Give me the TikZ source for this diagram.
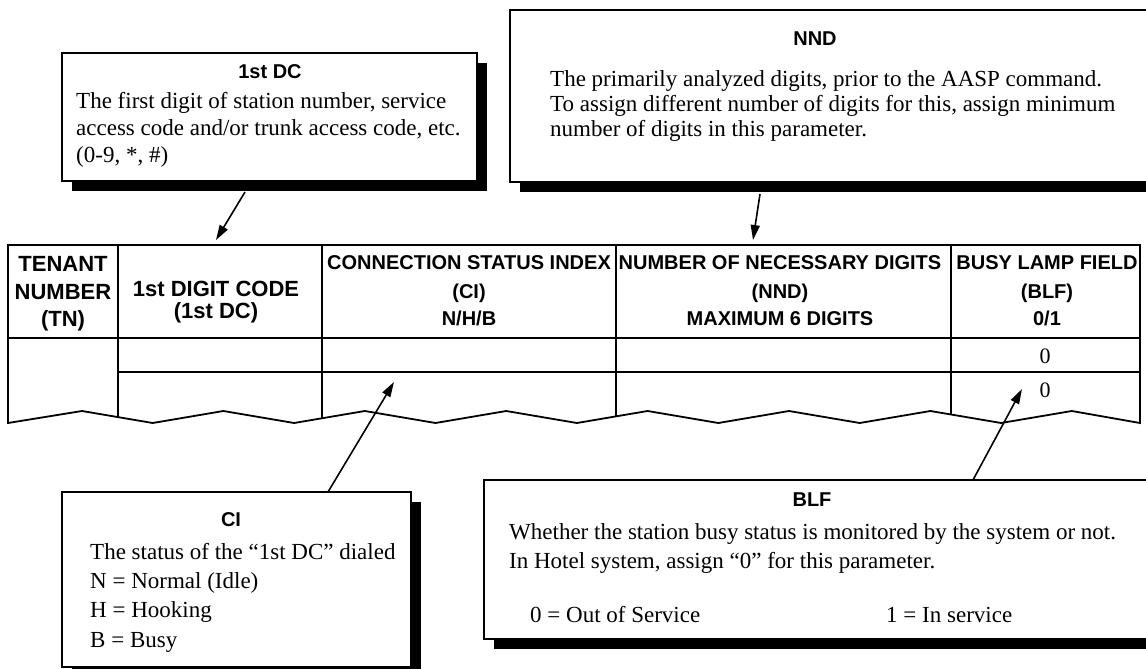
\documentclass[tikz,border=0pt]{standalone}
\usepackage{fontspec}
\setmainfont{Liberation Serif}
\setsansfont{Liberation Sans}
\usetikzlibrary{arrows.meta,shadows}
\tikzset{
  calloutbox/.style={draw, line width=1.8pt, fill=white, anchor=north west, inner sep=0pt, outer sep=0pt,
     drop shadow={shadow xshift=10pt, shadow yshift=-10pt, fill=black, opacity=1}},
  ttl/.style={font=\sffamily\bfseries\fontsize{20}{24}\selectfont, inner sep=0pt},
  bodyline/.style={font=\fontsize{23}{27}\selectfont, anchor=base west, inner sep=0pt},
  hdr/.style={font=\sffamily\bfseries\fontsize{20}{24}\selectfont, anchor=base, inner sep=0pt},
  hdrL/.style={font=\sffamily\bfseries\fontsize{22}{26}\selectfont, anchor=base, inner sep=0pt},
  cellnum/.style={font=\fontsize{22}{26}\selectfont, anchor=base, inner sep=0pt},
  pointer/.style={line width=1.6pt, -{Triangle[length=15pt,width=9pt]}},
  tableedge/.style={line width=1.8pt, line join=miter},
  cellrule/.style={line width=1.3pt},
  headrule/.style={line width=2.4pt},
}
\begin{document}
\begin{tikzpicture}[x=1pt,y=-1pt]
\useasboundingbox (0,0) rectangle (1146,669);
\clip (0,0) rectangle (1146,669);

% ---------- callout boxes ----------
\node[calloutbox, minimum width=415pt, minimum height=128pt] (dcbox) at (62,53) {};
\node[calloutbox, minimum width=660pt, minimum height=172pt] (nndbox) at (510,10) {};
\node[calloutbox, minimum width=349pt, minimum height=175pt] (cibox) at (62,492) {};
\node[calloutbox, minimum width=680pt, minimum height=159pt] (blfbox) at (484,480) {};

% 1st DC box text
\node[ttl] (dcT) at (270,72) {1st DC};
\node[bodyline] (dcL1) at (76,108) {The first digit of station number, service};
\node[bodyline] (dcL2) at (76,135) {access code and/or trunk access code, etc.};
\node[bodyline] (dcL3) at (76,162) {(0-9, *, \#)};

% NND box text
\node[ttl] (nndT) at (815,39) {NND};
\node[bodyline] (nndL1) at (550,86) {The primarily analyzed digits, prior to the AASP command.};
\node[bodyline] (nndL2) at (550,111) {To assign different number of digits for this, assign minimum};
\node[bodyline] (nndL3) at (550,136) {number of digits in this parameter.};

% CI box text
\node[ttl] (ciT) at (231,520) {CI};
\node[bodyline] (ciL1) at (90,559) {The status of the “1st DC” dialed};
\node[bodyline] (ciL2) at (90,588) {N = Normal (Idle)};
\node[bodyline] (ciL3) at (90,617) {H = Hooking};
\node[bodyline] (ciL4) at (90,647) {B = Busy};

% BLF box text
\node[ttl] (blfT) at (812,500) {BLF};
\node[bodyline] (blfL1) at (509,539) {Whether the station busy status is monitored by the system or not.};
\node[bodyline] (blfL2) at (509,568) {In Hotel system, assign “0” for this parameter.};
\node[bodyline] (blfL3) at (530,622) {0 = Out of Service};
\node[bodyline] (blfL4) at (886,622) {1 = In service};

% ---------- table ----------
\def\tablepath{(8,245) -- (1140,245) -- (1140,423) -- (1071.8,411) -- (1001.1,423) -- (930.4,411) -- (859.7,423) -- (789,411) -- (718.3,423) -- (647.6,411) -- (576.9,423) -- (506.2,411) -- (435.5,423) -- (364.8,411) -- (294.1,423) -- (223.4,411) -- (152.7,423) -- (82,411) -- (8,423) -- cycle}
\begin{scope}
  \clip \tablepath;
  \foreach \cx in {118,322,616,951} \draw[cellrule] (\cx,245) -- (\cx,430);
  \draw[headrule] (8,338) -- (1140,338);
  \draw[cellrule] (118,372) -- (1140,372);
\end{scope}
\draw[tableedge] \tablepath;

% header texts
\node[hdrL] (tn1) at (63,271) {TENANT};
\node[hdrL] (tn2) at (63,299) {NUMBER};
\node[hdrL] (tn3) at (63,326) {(TN)};
\node[hdrL] (dc1) at (216,296) {1st DIGIT CODE};
\node[hdrL] (dc2) at (216,318) {(1st DC)};
\node[hdr] (ci1) at (469,269) {CONNECTION STATUS INDEX};
\node[hdr] (ci2) at (469,298) {(CI)};
\node[hdr] (ci3) at (469,325) {N/H/B};
\node[hdr] (nn1) at (780,269) {NUMBER OF NECESSARY DIGITS};
\node[hdr] (nn2) at (780,298) {(NND)};
\node[hdr] (nn3) at (780,325) {MAXIMUM 6 DIGITS};
\node[hdr] (bl1) at (1047,269) {BUSY LAMP FIELD};
\node[hdr] (bl2) at (1047,298) {(BLF)};
\node[hdr] (bl3) at (1047,325) {0/1};
\node[cellnum] (z1) at (1045,363) {0};
\node[cellnum] (z2) at (1045,397) {0};

% ---------- pointers ----------
\coordinate (dcFrom) at (245,192);
\coordinate (dcTo) at (216,240);
\coordinate (nndFrom) at (760,194);
\coordinate (nndTo) at (753,240);
\coordinate (ciFrom) at (328,492);
\coordinate (ciTo) at (394,382);
\coordinate (blfFrom) at (973,480);
\coordinate (blfTo) at (1022,389);
\draw[pointer] (dcFrom) -- (dcTo);
\draw[pointer] (nndFrom) -- (nndTo);
\draw[pointer] (ciFrom) -- (ciTo);
\draw[pointer] (blfFrom) -- (blfTo);
\end{tikzpicture}
\end{document}
